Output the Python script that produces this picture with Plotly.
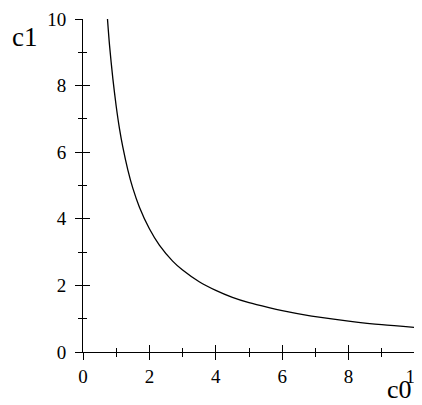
import plotly.graph_objects as go

c0 = [0.73, 0.8, 0.9, 1.0, 1.1, 1.2, 1.35, 1.5, 1.7, 2.0, 2.3, 2.7, 3.0, 3.5,
      4.0, 4.5, 5.0, 5.6, 6.0, 6.8, 7.0, 8.0, 9.0, 10.0]
c1 = [10.1, 9.2, 8.2, 7.38, 6.7, 6.15, 5.47, 4.92, 4.35, 3.7, 3.21, 2.73, 2.46, 2.11,
      1.85, 1.64, 1.48, 1.33, 1.24, 1.09, 1.06, 0.93, 0.82, 0.74]
x_range = [0, 10]
y_range = [0, 10]

FONT = "Liberation Serif"

fig = go.Figure()
fig.add_trace(go.Scatter(x=c0, y=c1, mode="lines",
                         line=dict(color="black", width=1.3, shape="spline", smoothing=0.8),
                         hoverinfo="skip", showlegend=False))
fig.add_trace(go.Scatter(x=[None], y=[None], xaxis="x2", yaxis="y2",
                         showlegend=False, hoverinfo="skip"))

axis_common = dict(showgrid=False, zeroline=False, showline=True,
                   linecolor="black", linewidth=1, tickcolor="black",
                   tickwidth=1, dtick=2, tick0=0, automargin=False)

tickfont = dict(family="Times New Roman", size=19, color="black")

# page body has an 8px margin, so the figure is sized to end at the window edge
fig.update_layout(
    width=414, height=397,
    margin=dict(l=75, r=7, t=11, b=53),
    paper_bgcolor="white", plot_bgcolor="white",
    font=dict(family="Times New Roman", color="black", size=19),
    xaxis=dict(range=x_range, ticks="outside", ticklen=7, **axis_common,
               minor=dict(dtick=1, ticks="outside", ticklen=4, tickcolor="black"),
               tickfont=tickfont, ticklabelstandoff=0, ticklabeloverflow="allow"),
    yaxis=dict(range=y_range, ticks="outside", ticklen=7, **axis_common,
               minor=dict(dtick=1, ticks="outside", ticklen=4, tickcolor="black"),
               tickfont=tickfont, ticklabelstandoff=5, ticklabeloverflow="allow"),
    xaxis2=dict(range=x_range, overlaying="x", ticks="inside", ticklen=7,
                showticklabels=False, anchor="y2", **axis_common,
                minor=dict(dtick=1, ticks="inside", ticklen=4, tickcolor="black")),
    yaxis2=dict(range=y_range, overlaying="y", ticks="inside", ticklen=7,
                showticklabels=False, anchor="x2", **axis_common,
                minor=dict(dtick=1, ticks="inside", ticklen=4, tickcolor="black")),
    annotations=[
        dict(text="c1", xref="paper", yref="paper", x=-0.175, y=0.946,
             xanchor="center", yanchor="middle", showarrow=False,
             font=dict(family=FONT, size=27, color="black")),
        dict(text="c0", xref="paper", yref="paper", x=0.952, y=-0.114,
             xanchor="center", yanchor="middle", showarrow=False,
             font=dict(family=FONT, size=26, color="black")),
    ],
)

fig.write_html("out.html")
